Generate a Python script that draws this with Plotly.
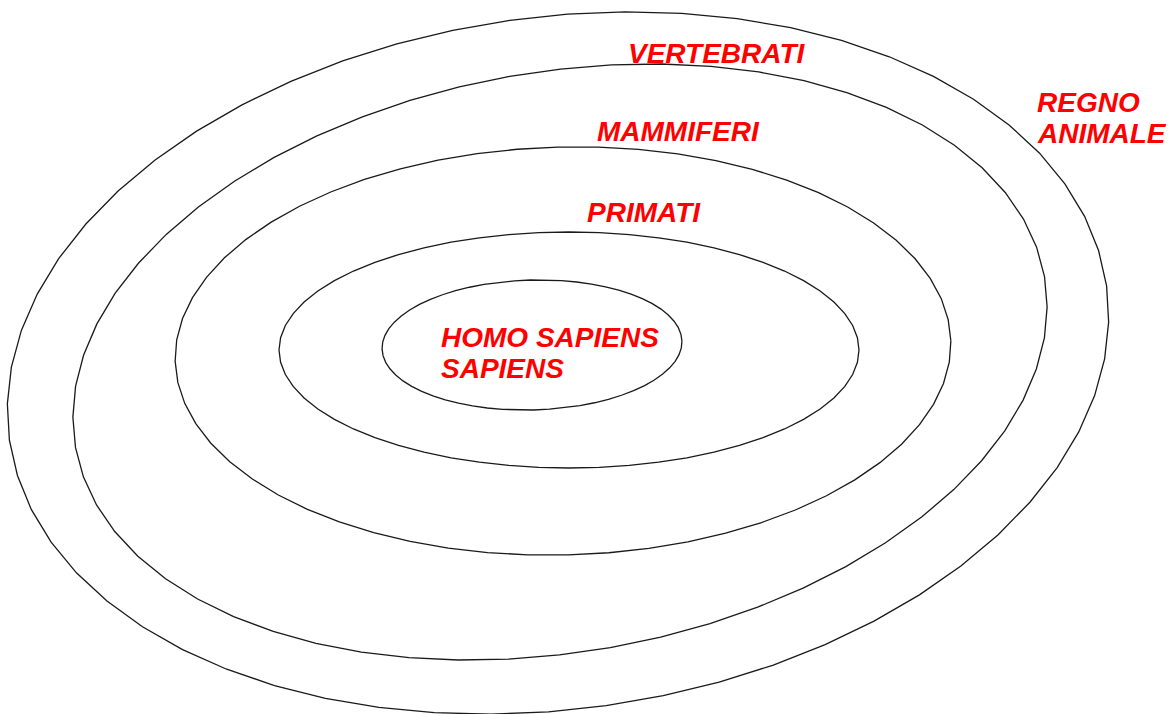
import numpy as np
import plotly.graph_objects as go

# Nested sets (outer to inner) - ellipse parameters in picture units
ring_names = ["Regno animale", "Vertebrati", "Mammiferi", "Primati", "Homo sapiens sapiens"]
center_x = [558, 560, 563, 569, 532]
center_y = [363, 362, 351, 350, 345]
semi_a = [554, 492, 388, 290, 150]
semi_b = [346, 290, 204, 118, 65]
tilt_deg = [-8, -10, -1.5, 0, -1.5]

# Labels
label_text = ["VERTEBRATI", "MAMMIFERI", "PRIMATI", "REGNO", "ANIMALE", "HOMO SAPIENS", "SAPIENS"]
label_x = [626, 595, 585, 1035, 1035, 439, 439]
label_y = [53, 131, 212, 102, 133, 337, 368]

W, H = 1175, 714
fig = go.Figure()

n_pts = 60
t = np.linspace(0, 2 * np.pi, n_pts + 1)
for name, cx, cy, a, b, th in zip(ring_names, center_x, center_y, semi_a, semi_b, tilt_deg):
    phi = np.deg2rad(th)
    xs = cx + a * np.cos(t) * np.cos(phi) - b * np.sin(t) * np.sin(phi)
    ys = cy + a * np.cos(t) * np.sin(phi) + b * np.sin(t) * np.cos(phi)
    fig.add_trace(go.Scatter(x=xs, y=ys, mode="lines", name=name,
                             line=dict(color="#1a1a1a", width=1.3),
                             hoverinfo="name", showlegend=False))

for txt, lx, ly in zip(label_text, label_x, label_y):
    fig.add_annotation(x=lx, y=ly, xref="x", yref="y", text=f"<b><i>{txt}</i></b>",
                       showarrow=False, xanchor="left", yanchor="middle",
                       font=dict(family="Liberation Sans, Arial, sans-serif", size=28, color="#FF0000"))

fig.update_xaxes(range=[0, W], visible=False, showgrid=False, zeroline=False, fixedrange=True)
fig.update_yaxes(range=[H, 0], visible=False, showgrid=False, zeroline=False, fixedrange=True)
fig.update_layout(width=W, height=H, margin=dict(l=0, r=0, t=0, b=0),
                  paper_bgcolor="white", plot_bgcolor="white", showlegend=False)

fig.write_html("out.html", config={"displayModeBar": False},
               post_script="document.body.style.margin='0';document.body.style.overflow='hidden';")
